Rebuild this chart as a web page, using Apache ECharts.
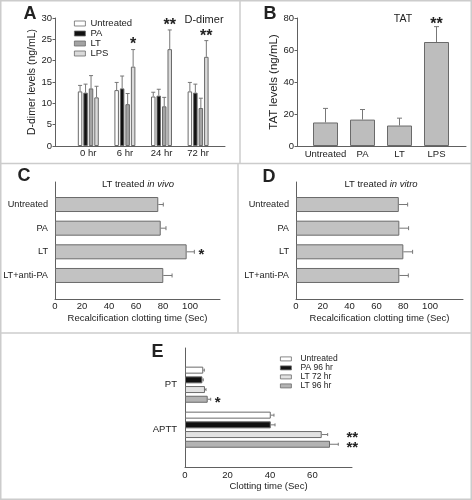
<!DOCTYPE html>
<html><head><meta charset="utf-8">
<script src="https://cdn.jsdelivr.net/npm/echarts@6/dist/echarts.min.js"></script>
<style>html,body{margin:0;padding:0;background:#fff}#c{width:472px;height:500px}</style>
</head><body><div id="c"></div>
<script>
// ---------------- data ----------------
const hoursA = ['0 hr', '6 hr', '24 hr', '72 hr'];
const legendA = ['Untreated', 'PA', 'LT', 'LPS'];
const untreatedA = [12.8, 13.1, 11.6, 12.8];
const untreatedErrA = [1.4, 1.8, 1.0, 2.1];
const paA = [12.5, 13.5, 11.8, 12.5];
const paErrA = [2.0, 2.9, 1.5, 2.0];
const ltA = [13.5, 9.8, 9.3, 8.9];
const ltErrA = [3.0, 2.5, 2.1, 2.3];
const lpsA = [11.4, 18.6, 22.7, 20.9];
const lpsErrA = [2.6, 4.0, 4.5, 3.8];
const lpsSigA = ['', '*', '**', '**'];

const groupsB = ['Untreated', 'PA', 'LT', 'LPS'];
const tatB = [14.7, 16.5, 12.8, 65.0];
const tatErrB = [8.8, 6.3, 4.6, 9.6];
const tatSigB = ['', '', '', '**'];

const groupsCD = ['Untreated', 'PA', 'LT', 'LT+anti-PA'];
const inVivoC = [76.5, 78.3, 97.5, 80.2];
const inVivoErrC = [3.7, 3.9, 5.7, 6.5];
const inVivoSigC = ['', '', '*', ''];
const inVitroD = [76.7, 77.1, 80.1, 77.1];
const inVitroErrD = [6.6, 6.9, 6.9, 6.7];

const testsE = ['PT', 'APTT'];
const legendE = ['Untreated', 'PA 96 hr', 'LT 72 hr', 'LT 96 hr'];
const untreatedE = [8.6, 40.4];
const untreatedErrE = [0.5, 1.5];
const pa96E = [8.2, 40.4];
const pa96ErrE = [0.4, 2.0];
const lt72E = [9.4, 64.4];
const lt72ErrE = [0.5, 2.8];
const lt96E = [10.7, 68.3];
const lt96ErrE = [1.4, 3.9];
const lt72SigE = ['', '**'];
const lt96SigE = ['*', '**'];

// ---------------- styles ----------------
const FONT = "'Liberation Sans', Arial, sans-serif";
const TXT = '#222';
const AXC = '#606060';
const EDGE = '#6a6a6a';
const WHISK = '#777';
const FRAME = '#cccccc';

function axLine() { return { show: true, lineStyle: { color: AXC, width: 1 } }; }
function lineOnlyValue(gi, opts) {
  return Object.assign({ gridIndex: gi, type: 'value', min: 0, max: 1,
    axisLine: axLine(), axisTick: { show: false }, axisLabel: { show: false }, splitLine: { show: false } }, opts || {});
}
function hiddenValue(gi, min, max) {
  return { gridIndex: gi, type: 'value', min: min, max: max, show: false, splitLine: { show: false } };
}
function catAxis(gi, data, margin, size, inverse) {
  return { gridIndex: gi, type: 'category', data: data, inverse: !!inverse,
    axisLine: { show: false }, axisTick: { show: false }, splitLine: { show: false },
    axisLabel: { interval: 0, margin: margin, fontSize: size, color: TXT, fontFamily: FONT } };
}

// offset of bar i among n grouped bars (same rule as the library's layout)
function barOffset(i, n, bw, gapRatio) {
  const gap = bw * gapRatio;
  const total = n * bw + (n - 1) * gap;
  return -total / 2 + bw / 2 + i * (bw + gap);
}

function vErr(ai, vals, errs, off, cap, sig, starSize, starGap) {
  return { type: 'custom', xAxisIndex: ai, yAxisIndex: ai, silent: true, z: 3,
    data: vals.map((v, i) => [i, v, v + errs[i]]),
    renderItem: function (params, api) {
      const b = api.coord([api.value(0), api.value(1)]);
      const t = api.coord([api.value(0), api.value(2)]);
      const x = b[0] + off;
      const ch = [
        { type: 'line', shape: { x1: x, y1: b[1], x2: x, y2: t[1] }, style: { stroke: WHISK, lineWidth: 1 } },
        { type: 'line', shape: { x1: x - cap, y1: t[1], x2: x + cap, y2: t[1] }, style: { stroke: WHISK, lineWidth: 1 } }
      ];
      const s = sig && sig[params.dataIndex];
      if (s) ch.push({ type: 'text', style: { text: s, x: x, y: t[1] - starGap + starSize * 0.22,
        align: 'center', verticalAlign: 'middle', fill: TXT, font: 'bold ' + starSize + 'px ' + FONT } });
      return { type: 'group', children: ch };
    } };
}

function hErr(ai, vals, errs, off, cap, sig, starSize, starX) {
  return { type: 'custom', xAxisIndex: ai, yAxisIndex: ai, silent: true, z: 3,
    data: vals.map((v, i) => [v, i, v + errs[i]]),
    renderItem: function (params, api) {
      const b = api.coord([api.value(0), api.value(1)]);
      const t = api.coord([api.value(2), api.value(1)]);
      const y = b[1] + off;
      const ch = [
        { type: 'line', shape: { x1: b[0], y1: y, x2: t[0], y2: y }, style: { stroke: WHISK, lineWidth: 1 } },
        { type: 'line', shape: { x1: t[0], y1: y - cap, x2: t[0], y2: y + cap }, style: { stroke: WHISK, lineWidth: 1 } }
      ];
      const s = sig && sig[params.dataIndex];
      if (s) {
        const sx = starX ? api.coord([starX[params.dataIndex], api.value(1)])[0] : t[0];
        const w = s.length > 1 ? 7 : 0;
        ch.push({ type: 'text', style: { text: s, x: sx + 7 + w, y: y + starSize * 0.22,
          align: 'center', verticalAlign: 'middle', fill: TXT, font: 'bold ' + starSize + 'px ' + FONT } });
      }
      return { type: 'group', children: ch };
    } };
}

function bar(name, ai, data, fill, bw, gap) {
  return { type: 'bar', name: name, xAxisIndex: ai, yAxisIndex: ai, data: data,
    barWidth: bw, barGap: (gap * 100) + '%', silent: true,
    itemStyle: { color: fill, borderColor: EDGE, borderWidth: 1 } };
}

// ---------------- series ----------------
const series = [];
// Panel A
const bwA = 4.5, gA = 0.22;
const colA = ['#ffffff', '#111111', '#a3a3a3', '#dadada'];
const valsA = [untreatedA, paA, ltA, lpsA];
const errsA = [untreatedErrA, paErrA, ltErrA, lpsErrA];
valsA.forEach((v, i) => series.push(bar(legendA[i], 1, v, colA[i], bwA, gA)));
valsA.forEach((v, i) => series.push(vErr(1, v, errsA[i], barOffset(i, 4, bwA, gA), 2,
  i === 3 ? lpsSigA : null, 16, 8)));
// Panel B
series.push(bar('TAT', 3, tatB, '#bdbdbd', 25, 0));
series.push(vErr(3, tatB, tatErrB, 0, 2.5, tatSigB, 16, 6));
// Panel C
series.push(bar('in vivo', 5, inVivoC, '#c2c2c2', 15, 0));
series.push(hErr(5, inVivoC, inVivoErrC, 0, 2, inVivoSigC, 15, null));
// Panel D
series.push(bar('in vitro', 7, inVitroD, '#c2c2c2', 15, 0));
series.push(hErr(7, inVitroD, inVitroErrD, 0, 2, null, 15, null));
// Panel E
const bwE = 7, gE = 0.386;
const colE = ['#ffffff', '#111111', '#e2e2e2', '#b3b3b3'];
const valsE = [untreatedE, pa96E, lt72E, lt96E];
const errsE = [untreatedErrE, pa96ErrE, lt72ErrE, lt96ErrE];
const sigsE = [null, null, lt72SigE, lt96SigE];
const groupMaxE = testsE.map((t, k) => Math.max.apply(null, valsE.map((v, i) => v[k] + errsE[i][k])));
valsE.forEach((v, i) => series.push(bar(legendE[i], 9, v, colE[i], bwE, gE)));
valsE.forEach((v, i) => series.push(hErr(9, v, errsE[i], barOffset(i, 4, bwE, gE), 1.5, sigsE[i], 15,
  i === 3 ? null : (sigsE[i] ? groupMaxE : null))));

// ---------------- axes ----------------
const xAxis = [
  lineOnlyValue(0),
  catAxis(1, hoursA, 2, 9.5),
  lineOnlyValue(2),
  catAxis(3, groupsB, 3.5, 9.5),
  { gridIndex: 4, type: 'value', min: 0, max: 122.2, interval: 20,
    axisLine: axLine(), axisTick: { show: false }, splitLine: { show: false },
    axisLabel: { margin: 2.5, fontSize: 9.5, color: TXT, fontFamily: FONT, formatter: v => (v <= 100 ? v : '') },
    name: 'Recalcification clotting time (Sec)', nameLocation: 'middle', nameGap: 14.5,
    nameTextStyle: { fontSize: 9.5, color: TXT, fontFamily: FONT } },
  hiddenValue(5, 0, 122.2),
  { gridIndex: 6, type: 'value', min: 0, max: 124.6, interval: 20,
    axisLine: axLine(), axisTick: { show: false }, splitLine: { show: false },
    axisLabel: { margin: 2.5, fontSize: 9.5, color: TXT, fontFamily: FONT, formatter: v => (v <= 100 ? v : '') },
    name: 'Recalcification clotting time (Sec)', nameLocation: 'middle', nameGap: 14.5,
    nameTextStyle: { fontSize: 9.5, color: TXT, fontFamily: FONT } },
  hiddenValue(7, 0, 124.6),
  { gridIndex: 8, type: 'value', min: 0, max: 78.66, interval: 20,
    axisLine: axLine(), axisTick: { show: false }, splitLine: { show: false },
    axisLabel: { margin: 3.5, fontSize: 9.5, color: TXT, fontFamily: FONT, formatter: v => (v % 20 === 0 ? v : '') },
    name: 'Clotting time (Sec)', nameLocation: 'middle', nameGap: 14,
    nameTextStyle: { fontSize: 9.5, color: TXT, fontFamily: FONT } },
  hiddenValue(9, 0, 78.66)
];
const yAxis = [
  { gridIndex: 0, type: 'value', min: 0, max: 30, interval: 5,
    axisLine: axLine(), axisTick: { show: true, length: 2.5, lineStyle: { color: AXC } }, splitLine: { show: false },
    axisLabel: { margin: 3, fontSize: 9.5, color: TXT, fontFamily: FONT },
    name: 'D-dimer levels (ng/mL)', nameLocation: 'middle', nameGap: 16,
    nameTextStyle: { fontSize: 10.5, color: TXT, fontFamily: FONT } },
  hiddenValue(1, 0, 30),
  { gridIndex: 2, type: 'value', min: 0, max: 80, interval: 20,
    axisLine: axLine(), axisTick: { show: true, length: 2.5, lineStyle: { color: AXC } }, splitLine: { show: false },
    axisLabel: { margin: 3, fontSize: 9.5, color: TXT, fontFamily: FONT },
    name: 'TAT levels (ng/mL)', nameLocation: 'middle', nameGap: 14.5,
    nameTextStyle: { fontSize: 11.5, color: TXT, fontFamily: FONT } },
  hiddenValue(3, 0, 80),
  lineOnlyValue(4),
  catAxis(5, groupsCD, 7, 9.2, true),
  lineOnlyValue(6),
  catAxis(7, groupsCD, 7, 9.2, true),
  lineOnlyValue(8),
  catAxis(9, testsE, 8, 9.5, true)
];

const grid = [
  { left: 55, top: 18, width: 170, height: 128 },
  { left: 70, top: 18, width: 146.4, height: 128 },
  { left: 297, top: 18, width: 169, height: 128 },
  { left: 307, top: 18, width: 148, height: 128 },
  { left: 55, top: 182, width: 165, height: 117 },
  { left: 55, top: 192.7, width: 165, height: 94.6 },
  { left: 296, top: 182, width: 167, height: 117 },
  { left: 296, top: 192.7, width: 167, height: 94.6 },
  { left: 185, top: 348, width: 167, height: 119 },
  { left: 185, top: 362.2, width: 167, height: 90 }
];

// ---------------- annotations ----------------
function label(text, x, y, size, bold, extra) {
  return Object.assign({ type: 'text', x: x, y: y, silent: true,
    style: { text: text, align: 'center', verticalAlign: 'middle', fill: TXT,
      font: (bold ? 'bold ' : '') + size + 'px ' + FONT } }, extra || {});
}
function titleRich(a, b, x, y) {
  return { type: 'text', x: x, y: y, silent: true,
    style: { text: '{n|' + a + ' }{i|' + b + '}', align: 'center', verticalAlign: 'middle',
      rich: { n: { fontSize: 9.5, fontFamily: FONT, fill: TXT, color: TXT },
              i: { fontSize: 9.5, fontFamily: FONT, fontStyle: 'italic', fill: TXT, color: TXT } } } };
}
function fl(x1, y1, x2, y2) {
  return { type: 'line', silent: true, shape: { x1: x1, y1: y1, x2: x2, y2: y2 },
    style: { stroke: FRAME, lineWidth: 1.5 } };
}
const graphic = [
  { type: 'rect', silent: true, shape: { x: 0.75, y: 0.75, width: 470.5, height: 498.5 },
    style: { fill: 'none', stroke: FRAME, lineWidth: 1.5 } },
  fl(0, 163.5, 472, 163.5),
  fl(0, 333, 472, 333),
  fl(240, 0, 240, 163.5),
  fl(238, 163.5, 238, 333),
  label('A', 30, 14, 18, true),
  label('B', 270, 14.5, 18, true),
  label('C', 24, 176.5, 18, true),
  label('D', 269, 177.5, 18, true),
  label('E', 157.5, 352.5, 18, true),
  label('D-dimer', 204, 20, 11, false),
  label('TAT', 403, 19, 10.5, false),
  titleRich('LT treated', 'in vivo', 138, 184),
  titleRich('LT treated', 'in vitro', 381, 184)
];

const legend = [
  { left: 74, top: 18.5, padding: 0, orient: 'vertical', itemWidth: 11, itemHeight: 5, itemGap: 0, icon: 'rect',
    selectedMode: false, data: legendA, itemStyle: { borderWidth: 0.8, borderColor: EDGE },
    textStyle: { fontSize: 9.5, lineHeight: 9.5, color: TXT, fontFamily: FONT } },
  { left: 280, top: 354.4, padding: 0, orient: 'vertical', itemWidth: 11, itemHeight: 4, itemGap: 0, icon: 'rect',
    selectedMode: false, data: legendE, itemStyle: { borderWidth: 0.8, borderColor: EDGE },
    textStyle: { fontSize: 8.5, lineHeight: 7.8, color: TXT, fontFamily: FONT, padding: [0, 0, 0, 4] } }
];

const chart = echarts.init(document.getElementById('c'), null, { renderer: 'canvas' });
chart.setOption({
  animation: false,
  backgroundColor: '#ffffff',
  textStyle: { fontFamily: FONT },
  grid: grid, xAxis: xAxis, yAxis: yAxis, series: series, legend: legend, graphic: graphic
});
</script></body></html>
